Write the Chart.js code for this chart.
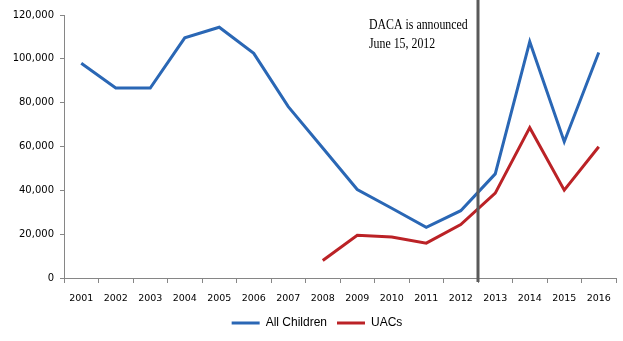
<!DOCTYPE html>
<html>
<head>
<meta charset="utf-8">
<script src="https://cdn.jsdelivr.net/npm/chart.js@4/dist/chart.umd.min.js"></script>
<style>
  html, body { margin: 0; padding: 0; background: #fff; }
  #wrap { width: 623px; height: 341px; }
</style>
</head>
<body>
<div id="wrap"><canvas id="kids_Chart" width="623" height="341"></canvas></div>
<script>
var years = ['2001', '2002', '2003', '2004', '2005', '2006', '2007', '2008',
             '2009', '2010', '2011', '2012', '2013', '2014', '2015', '2016'];
var allChildren = [98000, 86700, 86700, 109600, 114400, 102500, 78200, 59300,
                   40400, 31800, 23100, 30700, 47500, 107800, 62200, 102900];
var uacs = [null, null, null, null, null, null, null, 8000,
            19500, 18700, 15900, 24400, 38700, 68600, 40100, 59900];
var yTicks = [0, 20000, 40000, 60000, 80000, 100000, 120000];
var dacaText = ['DACA is announced', 'June 15, 2012'];

// trait vertical entre 2012 et 2013 + texte DACA
var dacaLine = {
  id: 'dacaLine',
  afterLayout(chart) {
    // décale un peu la légende vers la droite
    chart.legend.left += 9;
    chart.legend.right += 9;
  },
  afterDatasetsDraw(chart) {
    var ctx = chart.ctx;
    var x = chart.scales.x;
    var xPos = (x.getPixelForValue(11) + x.getPixelForValue(12)) / 2;
    ctx.save();
    ctx.strokeStyle = '#5a5a5a';
    ctx.lineWidth = 3;
    ctx.beginPath();
    ctx.moveTo(xPos, 0);
    ctx.lineTo(xPos, chart.chartArea.bottom + 4);
    ctx.stroke();
    // police serif un peu resserrée
    ctx.fillStyle = '#000';
    ctx.font = '15px "Liberation Serif"';
    ctx.textBaseline = 'alphabetic';
    ctx.translate(369, 0);
    ctx.scale(0.79, 1);
    ctx.fillText(dacaText[0], 0, 29);
    ctx.fillText(dacaText[1], 0, 48);
    ctx.restore();
  }
};

var ctx_kids = document.getElementById('kids_Chart').getContext('2d');
var myChartKids = new Chart(ctx_kids, {
  type: 'line',
  data: {
    labels: years,
    datasets: [{
      label: 'All Children',
      data: allChildren,
      borderColor: '#2a67b5',
      backgroundColor: '#2a67b5',
      borderWidth: 3,
      pointRadius: 0,
      tension: 0
    }, {
      label: 'UACs',
      data: uacs,
      borderColor: '#bb2226',
      backgroundColor: '#bb2226',
      borderWidth: 3,
      pointRadius: 0,
      tension: 0
    }]
  },
  options: {
    responsive: false,
    animation: false,
    layout: { padding: { top: 15, right: 7, left: 0, bottom: 2 } },
    plugins: {
      tooltip: { enabled: false },
      legend: {
        position: 'bottom',
        labels: {
          usePointStyle: true,
          pointStyle: 'line',
          pointStyleWidth: 28,
          boxHeight: 10,
          padding: 10,
          color: '#000',
          font: { family: 'Liberation Sans', size: 12 }
        }
      }
    },
    scales: {
      x: {
        offset: true,
        border: { color: '#868686', width: 1 },
        grid: {
          offset: true,
          drawOnChartArea: false,
          drawTicks: true,
          tickLength: 5,
          color: '#868686'
        },
        ticks: {
          color: '#000',
          padding: 10,
          maxRotation: 0,
          autoSkip: false,
          font: { family: 'DejaVu Sans', size: 9.5 }
        },
        afterFit: function(scale) { scale.height = 29; }
      },
      y: {
        min: 0,
        max: 120000,
        border: { color: '#868686', width: 1 },
        grid: {
          drawOnChartArea: false,
          drawTicks: true,
          tickLength: 4,
          color: '#868686'
        },
        afterBuildTicks: function(scale) {
          scale.ticks = yTicks.map(function(v) { return { value: v }; });
        },
        ticks: {
          color: '#000',
          padding: 6,
          font: { family: 'DejaVu Sans', size: 10 },
          callback: function(v) { return v.toLocaleString('en-US'); }
        },
        afterFit: function(scale) { scale.width = 64; }
      }
    }
  },
  plugins: [dacaLine]
});
</script>
</body>
</html>
